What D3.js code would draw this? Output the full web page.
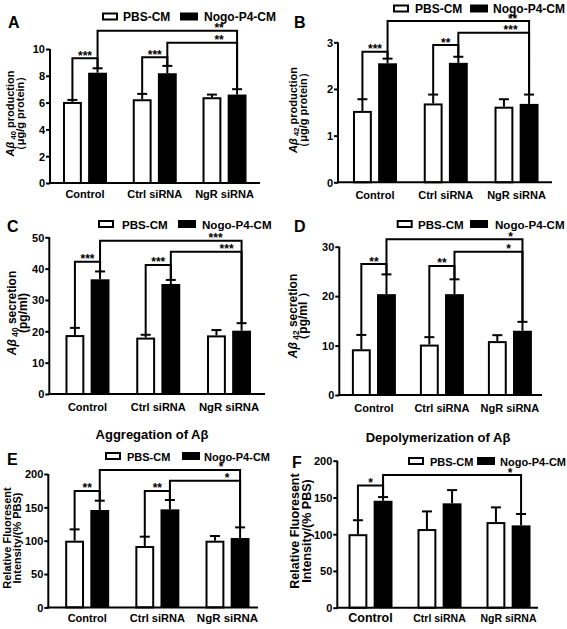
<!DOCTYPE html>
<html><head><meta charset="utf-8">
<script src="https://cdn.jsdelivr.net/npm/d3@7"></script>
<style>
body{margin:0;background:#fff}
svg{display:block}
text{font-family:Arial,"Liberation Sans",sans-serif;font-weight:bold;fill:#000}
</style>
</head><body>
<svg id="c" width="567" height="629"></svg>
<script>
// ---------- data ----------
const groups = ["Control", "Ctrl siRNA", "NgR siRNA"];
const seriesNames = ["PBS-CM", "Nogo-P4-CM"];

// A: Aβ40 production (µg/g protein)
const aPBS = [6.05, 6.25, 6.4],  aPBSErr = [0.15, 0.4, 0.2];
const aNogo = [8.23, 8.19, 6.6], aNogoErr = [0.33, 0.55, 0.4];
const aTicks = [0, 2, 4, 6, 8, 10];
// B: Aβ42 production (µg/g protein)
const bPBS = [1.53, 1.69, 1.62], bPBSErr = [0.25, 0.19, 0.16];
const bNogo = [2.55, 2.56, 1.68], bNogoErr = [0.1, 0.13, 0.2];
const bTicks = [0, 1, 2, 3];
// C: Aβ40 secretion (pg/ml)
const cPBS = [18.8, 18.0, 18.7], cPBSErr = [2.3, 0.9, 1.7];
const cNogo = [36.6, 35.1, 20.2], cNogoErr = [2.5, 1.3, 2.4];
const cTicks = [0, 10, 20, 30, 40, 50];
// D: Aβ42 secretion (pg/ml)
const dPBS = [9.25, 10.2, 10.9], dPBSErr = [2.9, 1.5, 1.2];
const dNogo = [20.4, 20.4, 13.0], dNogoErr = [4.0, 3.0, 1.8];
const dTicks = [0, 10, 20, 30];
// E: Aggregation of Aβ (% PBS)
const ePBS = [100, 92, 100], ePBSErr = [17, 14, 7];
const eNogo = [146, 147, 104], eNogoErr = [14, 14, 16];
const eTicks = [0, 50, 100, 150, 200];
// F: Depolymerization of Aβ (% PBS)
const fPBS = [100, 107, 116.5], fPBSErr = [19, 24, 20];
const fNogo = [145.5, 142, 112], fNogoErr = [5, 18, 15.5];
const fTicks = [0, 50, 100, 150, 200];

// significance brackets: [fromGroup, fromSeries, toGroup, toSeries, level (data units), label]
const aBrackets = [[0,0,0,1,9.31,"***"],[1,0,1,1,9.38,"***"],[0,1,2,1,11.37,"**"],[1,1,2,1,10.47,"**"]];
const bBrackets = [[0,0,0,1,2.80,"***"],[1,0,1,1,2.94,"**"],[0,1,2,1,3.456,"**"],[1,1,2,1,3.206,"***"]];
const cBrackets = [[0,0,0,1,42.2,"***"],[1,0,1,1,41.2,"***"],[0,1,2,1,48.9,"***"],[1,1,2,1,45.4,"***"]];
const dBrackets = [[0,0,0,1,26.5,"**"],[1,0,1,1,26.1,"**"],[0,1,2,1,31.5,"*"],[1,1,2,1,29.0,"*"]];
const eBrackets = [[0,0,0,1,174.6,"**"],[1,0,1,1,174.6,"**"],[0,1,2,1,206,"*"],[1,1,2,1,190,"*"]];
const fBrackets = [[0,0,0,1,166.3,"*"],[0,1,2,1,180.5,"*"]];

// ---------- layout ----------
const panels = [
  {id:"A", pbs:aPBS, pbsErr:aPBSErr, nogo:aNogo, nogoErr:aNogoErr, ticks:aTicks, brackets:aBrackets,
   yMax:10, y0:183, yTop:49, x0:50, xEnd:260, band:[50.1,259.4], catDy:15, catFs:[11,11,11],
   lblDx:[null,null,-18,-18], letter:[8,28],
   legend:{open:102, filled:180, t1:123, t2:204, cy:16.5, base:20.5, fs:12},
   ylab:{cy:113.5, x1:14, x2:24, fs:11, l1:["Aβ"," 40"," production"], l2:"（μg/g protein）"}},
  {id:"B", pbs:bPBS, pbsErr:bPBSErr, nogo:bNogo, nogoErr:bNogoErr, ticks:bTicks, brackets:bBrackets,
   yMax:3, y0:182.3, yTop:42.3, x0:338, xEnd:552, band:[339.6,551.9], catDy:16.5, catFs:[11,11,11],
   lblDx:[null,null,-16.5,-18.5], letter:[294,28],
   legend:{open:393, filled:470, t1:415, t2:493, cy:8.5, base:12.5, fs:12},
   ylab:{cy:110, x1:297, x2:307, fs:11, l1:["Aβ"," 42"," production"], l2:"（μg/g protein）"}},
  {id:"C", pbs:cPBS, pbsErr:cPBSErr, nogo:cNogo, nogoErr:cNogoErr, ticks:cTicks, brackets:cBrackets,
   yMax:50, y0:394, yTop:237.3, x0:49.3, xEnd:265, band:[52.1,264.4], catDy:17, catFs:[11,11,11.3],
   lblDx:[null,null,-26,-15], letter:[7,232],
   legend:{open:98, filled:178, t1:122, t2:202, cy:224, base:228.5, fs:11.6},
   ylab:{cy:313, x1:16, x2:27, fs:12, l1:["Aβ"," 40"," secretion"], l2:"(pg/ml)"}},
  {id:"D", pbs:dPBS, pbsErr:dPBSErr, nogo:dNogo, nogoErr:dNogoErr, ticks:dTicks, brackets:dBrackets,
   yMax:30, y0:395, yTop:246.7, x0:339.3, xEnd:542, band:[339.9,543.9], catDy:16.5, catFs:[11,11,11],
   lblDx:[null,null,-12,-14], letter:[294,232],
   legend:{open:396.7, filled:470, t1:418, t2:495, cy:224, base:228.5, fs:11.6},
   ylab:{cy:316, x1:297, x2:307, fs:12, l1:["Aβ"," 42"," secretion"], l2:"（pg/ml ）"}},
  {id:"E", pbs:ePBS, pbsErr:ePBSErr, nogo:eNogo, nogoErr:eNogoErr, ticks:eTicks, brackets:eBrackets,
   yMax:200, y0:607.4, yTop:474, x0:48.3, xEnd:258, band:[52.1,262.6], catDy:15, catFs:[11,11,11.5],
   lblDx:[null,null,-19,-13], letter:[7,465],
   legend:{open:105, filled:182, t1:127, t2:204, cy:456, base:460.5, fs:11},
   title:{text:"Aggregation of Aβ", x:152, y:439},
   ylab:{cy:538, x1:10.5, x2:20.5, fs:11, l1:["Relative Fluoresent"], l2:"Intensity/(% PBS)"}},
  {id:"F", pbs:fPBS, pbsErr:fPBSErr, nogo:fNogo, nogoErr:fNogoErr, ticks:fTicks, brackets:fBrackets,
   yMax:200, y0:607.7, yTop:460.7, x0:337.3, xEnd:538, band:[336,543], catDy:14.5, catFs:[12.5,10.5,10.5],
   lblDx:[null,-11], letter:[292,468],
   legend:{open:408, filled:477, t1:430, t2:500, cy:461, base:466, fs:11},
   title:{text:"Depolymerization of Aβ", x:438, y:442},
   ylab:{cy:531, x1:298.5, x2:311, fs:12.5, l1:["Relative Fluoresent"], l2:"Intensity/(% PBS)"}}
];

const svg = d3.select("#c");

function drawPanel(p) {
  const g = svg.append("g");
  const x = d3.scaleBand().domain(groups).range(p.band).padding(0);
  const xs = d3.scaleBand().domain(seriesNames).range([-22, 22]).paddingInner(0.25).paddingOuter(0);
  const y = d3.scaleLinear().domain([0, p.yMax]).range([p.y0, p.yTop]);
  const bw = xs.bandwidth();

  const rows = groups.flatMap((gn, i) => [
    {g: gn, gi: i, s: seriesNames[0], si: 0, v: p.pbs[i], e: p.pbsErr[i]},
    {g: gn, gi: i, s: seriesNames[1], si: 1, v: p.nogo[i], e: p.nogoErr[i]}
  ]);
  const bx = d => x(d.g) + x.bandwidth() / 2 + xs(d.s);
  const cx = d => bx(d) + bw / 2;

  // error bars (upper only)
  const eb = g.append("g").attr("stroke", "#000").attr("stroke-width", 2);
  rows.forEach(d => {
    eb.append("line").attr("x1", cx(d)).attr("x2", cx(d)).attr("y1", y(d.v)).attr("y2", y(d.v + d.e));
    eb.append("line").attr("x1", cx(d) - 5).attr("x2", cx(d) + 5).attr("y1", y(d.v + d.e)).attr("y2", y(d.v + d.e));
  });

  // bars
  g.append("g").selectAll("rect").data(rows).join("rect")
    .attr("x", d => d.si === 0 ? bx(d) + 1 : bx(d))
    .attr("width", d => d.si === 0 ? bw - 2 : bw)
    .attr("y", d => d.si === 0 ? y(d.v) + 1 : y(d.v))
    .attr("height", d => d.si === 0 ? y(0) - y(d.v) - 1 : y(0) - y(d.v))
    .attr("fill", d => d.si === 0 ? "#fff" : "#000")
    .attr("stroke", d => d.si === 0 ? "#000" : "none")
    .attr("stroke-width", 2);

  // y axis
  const ya = g.append("g").attr("transform", `translate(${p.x0},0)`)
    .call(d3.axisLeft(y).tickValues(p.ticks).tickSize(4).tickSizeOuter(0).tickPadding(1).tickFormat(d3.format("d")));
  ya.select(".domain").attr("stroke-width", 2).attr("d", `M0,${p.y0 + 1}V${p.yTop}`);
  ya.selectAll(".tick line").attr("stroke-width", 2);
  ya.selectAll(".tick text").attr("font-size", 11).attr("font-weight", "bold")
    .attr("font-family", 'Arial,"Liberation Sans",sans-serif').attr("dy", "0.35em");

  // x axis line
  g.append("line").attr("x1", p.x0 - 1).attr("x2", p.xEnd).attr("y1", p.y0).attr("y2", p.y0)
    .attr("stroke", "#000").attr("stroke-width", 2);
  g.append("g").selectAll("text").data(groups).join("text")
    .attr("x", d => x(d) + x.bandwidth() / 2).attr("y", p.y0 + p.catDy)
    .attr("text-anchor", "middle").attr("font-size", (d, i) => p.catFs[i]).text(d => d);

  // significance brackets
  const rowAt = (gi, si) => rows.find(r => r.gi === gi && r.si === si);
  p.brackets.forEach((b, k) => {
    const r1 = rowAt(b[0], b[1]), r2 = rowAt(b[2], b[3]);
    const x1 = cx(r1), x2 = cx(r2), yl = y(b[4]);
    g.append("path").attr("fill", "none").attr("stroke", "#000").attr("stroke-width", 2)
      .attr("d", `M${x1},${y(r1.v + r1.e)}V${yl}H${x2}V${y(r2.v + r2.e)}`);
    const dx = p.lblDx[k];
    g.append("text").attr("x", dx == null ? (x1 + x2) / 2 : x2 + dx).attr("y", yl + 1.5)
      .attr("text-anchor", "middle").attr("font-size", 12).text(b[5]);
  });

  // legend
  const L = p.legend;
  g.append("rect").attr("x", L.open + 1).attr("y", L.cy - 3).attr("width", 14).attr("height", 6)
    .attr("fill", "#fff").attr("stroke", "#000").attr("stroke-width", 2);
  g.append("text").attr("x", L.t1).attr("y", L.base).attr("font-size", L.fs).text(seriesNames[0]);
  g.append("rect").attr("x", L.filled).attr("y", L.cy - 4).attr("width", 18).attr("height", 8).attr("fill", "#000");
  g.append("text").attr("x", L.t2).attr("y", L.base).attr("font-size", L.fs).text(seriesNames[1]);

  // panel letter
  g.append("text").attr("x", p.letter[0]).attr("y", p.letter[1]).attr("font-size", 16).text(p.id);

  // title
  if (p.title) {
    g.append("text").attr("x", p.title.x).attr("y", p.title.y).attr("text-anchor", "middle")
      .attr("font-size", 13).text(p.title.text);
  }

  // y label
  const Y = p.ylab;
  const t1 = g.append("text").attr("transform", `translate(${Y.x1},${Y.cy}) rotate(-90)`)
    .attr("text-anchor", "middle").attr("font-size", Y.fs);
  if (Y.l1.length === 3) {
    t1.append("tspan").attr("font-style", "italic").text(Y.l1[0]);
    t1.append("tspan").attr("font-size", Y.fs * 0.7).attr("dy", 2).text(Y.l1[1]);
    t1.append("tspan").attr("dy", -2).text(Y.l1[2]);
  } else {
    t1.text(Y.l1[0]);
  }
  g.append("text").attr("transform", `translate(${Y.x2},${Y.cy}) rotate(-90)`)
    .attr("text-anchor", "middle").attr("font-size", Y.fs).text(Y.l2);
}

panels.forEach(drawPanel);
</script>
</body></html>
